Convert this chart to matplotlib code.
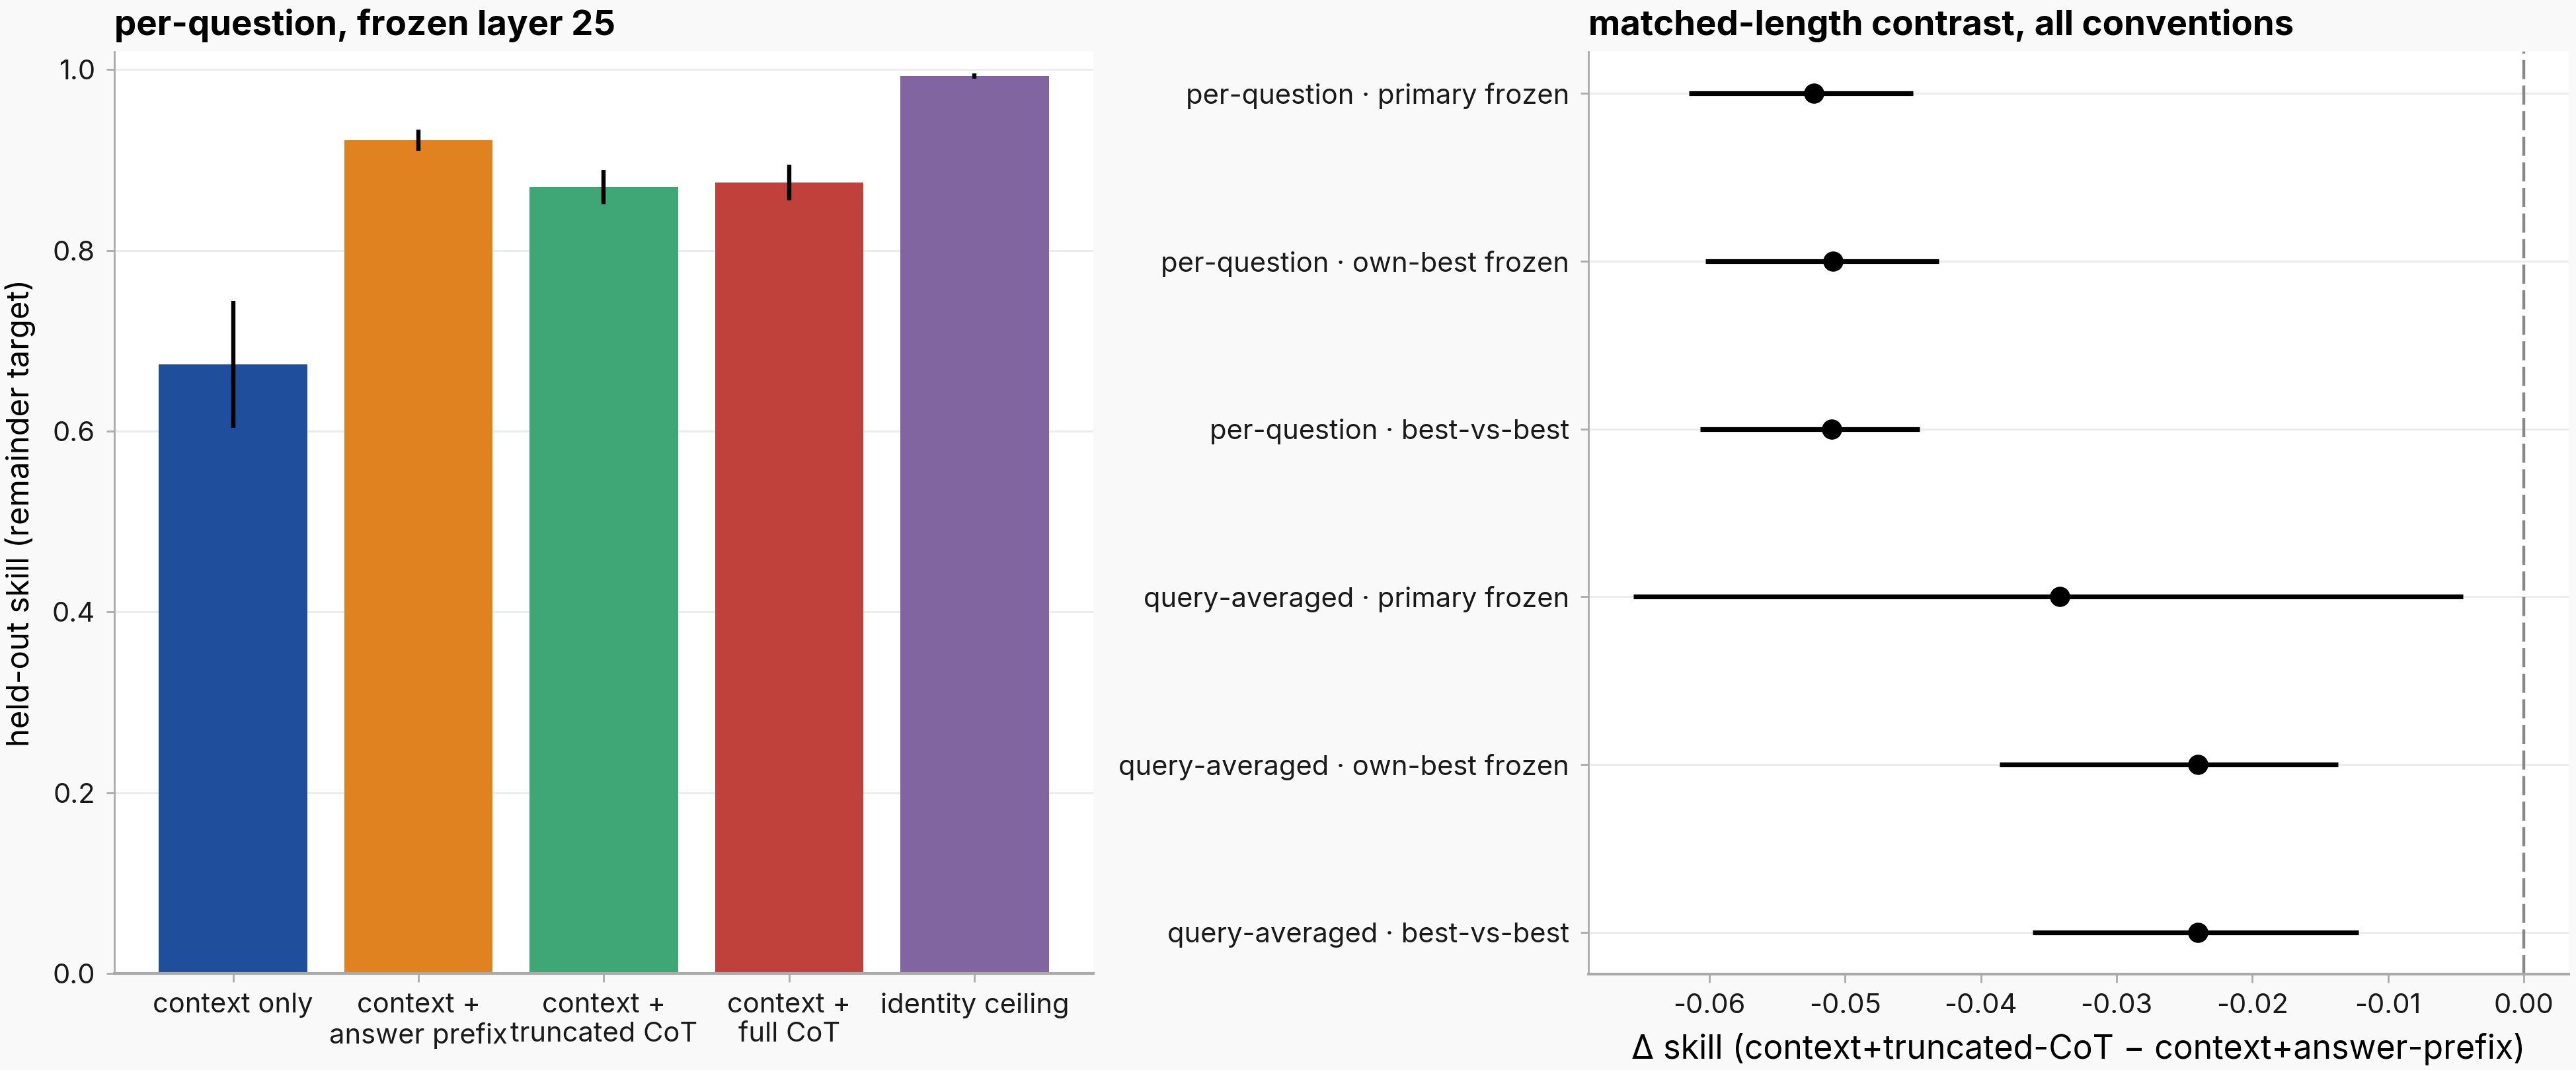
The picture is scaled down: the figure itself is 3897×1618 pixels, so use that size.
import matplotlib
matplotlib.use('Agg')
import matplotlib.pyplot as plt
import numpy as np

plt.rcParams['font.family'] = ['Inter', 'DejaVu Sans']

# left panel: held-out skill per condition
conditions = ['context only', 'context +\nanswer prefix', 'context +\ntruncated CoT',
              'context +\nfull CoT', 'identity ceiling']
skill = [0.674, 0.922, 0.870, 0.875, 0.993]
skill_err = [0.070, 0.012, 0.019, 0.020, 0.003]
bar_colors = ['#1f4e9c', '#e08220', '#3fa676', '#c0403c', '#8065a0']

# right panel: matched-length contrast
conventions = ['per-question · primary frozen', 'per-question · own-best frozen',
               'per-question · best-vs-best', 'query-averaged · primary frozen',
               'query-averaged · own-best frozen', 'query-averaged · best-vs-best']
delta = [-0.0523, -0.0509, -0.0510, -0.0342, -0.0240, -0.0240]
delta_lo = [-0.0615, -0.0603, -0.0607, -0.0656, -0.0386, -0.0362]
delta_hi = [-0.0450, -0.0431, -0.0445, -0.0045, -0.0137, -0.0122]

bg = '#f9f9f9'
spine_c = '#aaaaaa'
grid_c = '#ebebeb'

fig = plt.figure(figsize=(19.49, 8.09), dpi=200, facecolor=bg)
ax1 = fig.add_axes([0.0444, 0.0902, 0.3799, 0.8616])
ax2 = fig.add_axes([0.6165, 0.0896, 0.3804, 0.8622])

for ax in (ax1, ax2):
    ax.set_facecolor('white')
    for s in ('top', 'right'):
        ax.spines[s].set_visible(False)
    ax.spines['left'].set_color(spine_c)
    ax.spines['bottom'].set_color(spine_c)
    ax.spines['left'].set_linewidth(1.0)
    ax.spines['bottom'].set_linewidth(1.5)
    ax.tick_params(colors=spine_c, labelcolor='#1a1a1a', labelsize=15,
                   length=4.5, width=1.0, pad=6.0)
    ax.set_axisbelow(True)

# bars
x = np.arange(len(conditions))
ax1.bar(x, skill, width=0.8, color=bar_colors, zorder=2)
ax1.errorbar(x, skill, yerr=skill_err, fmt='none', ecolor='black',
             elinewidth=2.3, capsize=0, zorder=3)
ax1.set_xticks(x)
ax1.set_xticklabels(conditions)
ax1.set_ylim(0, 1.02)
ax1.set_yticks([0.0, 0.2, 0.4, 0.6, 0.8, 1.0])
ax1.yaxis.grid(True, color=grid_c, linewidth=1.0)
ax1.set_ylabel('held-out skill (remainder target)', fontsize=17, labelpad=9)
ax1.set_title('per-question, frozen layer 25', loc='left', fontsize=19,
              fontweight='bold', pad=9)

# forest plot
y = np.arange(len(conventions))
d = np.array(delta)
xerr = [d - np.array(delta_lo), np.array(delta_hi) - d]
ax2.errorbar(d, y, xerr=xerr, fmt='o', color='black', ecolor='black',
             elinewidth=2.6, markersize=10, capsize=0, zorder=3)
ax2.axvline(0, color='#888888', linewidth=1.6, dashes=(6.5, 2.2), zorder=2)
ax2.set_yticks(y)
ax2.set_yticklabels(conventions)
ax2.set_ylim(len(conventions) - 0.75, -0.25)
ax2.set_xlim(-0.0689, 0.0033)
ax2.set_xticks([-0.06, -0.05, -0.04, -0.03, -0.02, -0.01, 0.0])
ax2.xaxis.set_major_formatter(matplotlib.ticker.FormatStrFormatter('%.2f'))
ax2.yaxis.grid(True, color=grid_c, linewidth=1.0)
ax2.set_xlabel('Δ skill (context+truncated-CoT − context+answer-prefix)', fontsize=18, labelpad=8)
ax2.set_title('matched-length contrast, all conventions', loc='left', fontsize=19,
              fontweight='bold', pad=9)

fig.savefig('out.png', dpi=200, facecolor=bg)
